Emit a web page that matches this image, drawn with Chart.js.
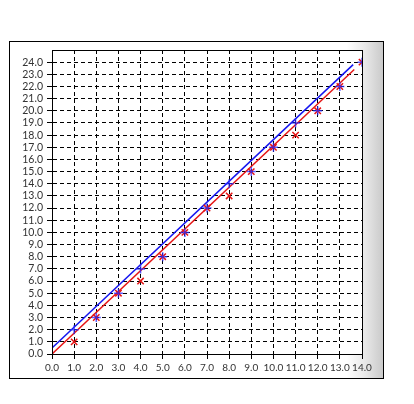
<!DOCTYPE html>
<html>
<head>
<meta charset="utf-8">
<script src="https://cdn.jsdelivr.net/npm/chart.js@4/dist/chart.umd.min.js"></script>
<style>
  html, body { margin: 0; padding: 0; background: #fff; }
  #wrap { position: relative; width: 414px; height: 404px; }
</style>
</head>
<body>
<div id="wrap"><canvas id="c" width="414" height="404"></canvas></div>
<script>
// ---- data ----
const xValues     = [1, 2, 3, 4, 5, 6, 7, 8, 9, 10, 11, 12, 13, 14];
const redValues   = [1, 3, 5, 6, 8, 10, 12, 13, 15, 17, 18, 20, 22, 24];
const blueValues  = [2, 3, 5, 7, 8, 10, 12, 14, 15, 17, 19, 20, 22, 24];
const redLineX    = [0, 13.65];
const redLineY    = [0, 23.4];
const blueLineX   = [0, 13.6];
const blueLineY   = [0.5, 23.8];
const xTickMax    = 14;
const yTickMax    = 24;

const RED  = 'rgb(230,20,20)';
const BLUE = 'rgb(20,20,240)';

const pts = (xs, ys) => xs.map((x, i) => ({ x: x, y: ys[i] }));

const framePlugin = {
  id: 'frame',
  beforeDraw(chart) {
    const ctx = chart.ctx;
    ctx.save();
    const g = ctx.createLinearGradient(9, 0, 384, 0);
    g.addColorStop(0, '#ffffff');
    g.addColorStop(0.9, '#ffffff');
    g.addColorStop(0.95, '#e8e8e8');
    g.addColorStop(1, '#c8c8c8');
    ctx.fillStyle = g;
    ctx.fillRect(9.5, 41.5, 374, 337);
    ctx.strokeStyle = '#000';
    ctx.lineWidth = 1;
    ctx.strokeRect(9.5, 41.5, 374, 337);
    const a = chart.chartArea;
    ctx.fillStyle = '#fff';
    ctx.fillRect(a.left, a.top, a.right - a.left, a.bottom - a.top);
    ctx.restore();
  },
  afterDraw(chart) {
    const ctx = chart.ctx;
    const a = chart.chartArea;
    ctx.save();
    ctx.strokeStyle = '#000';
    ctx.lineWidth = 1;
    ctx.strokeRect(Math.round(a.left) + 0.5, Math.round(a.top) + 0.5,
                   Math.round(a.right - a.left), Math.round(a.bottom - a.top));
    ctx.restore();
  }
};

new Chart(document.getElementById('c'), {
  type: 'scatter',
  data: {
    datasets: [
      {
        type: 'line', data: pts(redLineX, redLineY),
        borderColor: RED, borderWidth: 1.5, pointRadius: 0, fill: false, order: 3
      },
      {
        type: 'line', data: pts(blueLineX, blueLineY),
        borderColor: BLUE, borderWidth: 1.5, pointRadius: 0, fill: false, order: 4
      },
      {
        data: pts(xValues, redValues),
        pointStyle: 'crossRot', pointRadius: 4.5, pointBorderWidth: 1.5,
        borderColor: RED, backgroundColor: RED, order: 2
      },
      {
        data: pts(xValues, blueValues),
        pointStyle: 'cross', pointRadius: 4.5, pointBorderWidth: 1.5,
        borderColor: 'rgba(40,40,255,0.75)', backgroundColor: 'rgba(40,40,255,0.75)', order: 1
      }
    ]
  },
  plugins: [framePlugin],
  options: {
    responsive: false,
    animation: false,
    events: [],
    layout: { padding: { left: 9, top: 50, right: 52, bottom: 28 } },
    plugins: { legend: { display: false }, tooltip: { enabled: false } },
    scales: {
      x: {
        type: 'linear', min: 0, max: xTickMax,
        afterFit(s) { s.height = 22; },
        ticks: {
          stepSize: 1, autoSkip: false, maxRotation: 0, padding: 3,
          color: '#333', font: { family: 'Lato', size: 10 },
          callback: v => Number(v).toFixed(1)
        },
        grid: { color: '#000', lineWidth: 1, tickColor: '#000', tickLength: 5, tickBorderDash: [] },
        border: { display: true, color: '#000', width: 1, dash: [4, 3] }
      },
      y: {
        type: 'linear', min: 0, max: 25,
        afterFit(s) { s.width = 43; },
        afterBuildTicks(s) { s.ticks = s.ticks.filter(t => t.value <= yTickMax); },
        ticks: {
          stepSize: 1, autoSkip: false, padding: 4,
          color: '#333', font: { family: 'Lato', size: 10.5 },
          callback: v => Number(v).toFixed(1)
        },
        grid: { color: '#000', lineWidth: 1, tickColor: '#000', tickLength: 5, tickBorderDash: [] },
        border: { display: true, color: '#000', width: 1, dash: [4, 3] }
      }
    }
  }
});
</script>
</body>
</html>
